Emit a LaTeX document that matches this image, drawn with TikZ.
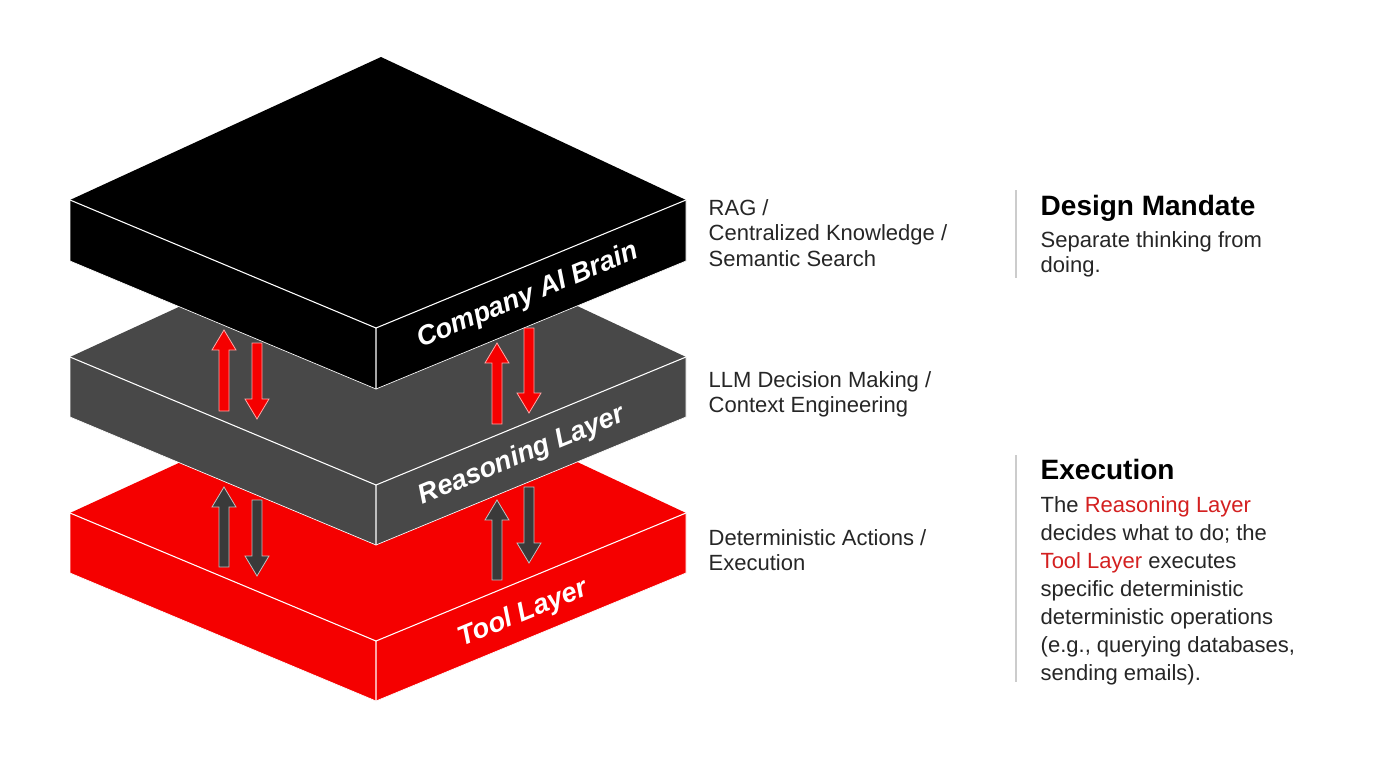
\documentclass[tikz,border=0pt]{standalone}
\usepackage{fontspec}
\setmainfont{Liberation Sans}
\begin{document}
\definecolor{rd}{HTML}{F50000}
\definecolor{rdt}{HTML}{D42020}
\definecolor{gy}{HTML}{484848}
\definecolor{ga}{HTML}{3A3A3A}
\newcommand\myslab[3]{% Y, thickness, color
  \fill[#3] (70,#1)--(381,#1-143)--(686,#1)--(686,#1+#2)--(376,#1+128+#2)--(70,#1+#2)--cycle;
  \draw[white,line width=0.8pt,line join=round] (70,#1)--(376,#1+128)--(686,#1) (376,#1+128)--(376,#1+128+#2);
  \draw[white,line width=0.5pt] (70,#1)--(70,#1+#2)--(376,#1+128+#2)--(686,#1+#2)--(686,#1);
}
\newcommand\uarr[4]{\draw[#4] (#1-5,#2)--(#1-5,#3+20)--(#1-12,#3+20)--(#1,#3)--(#1+12,#3+20)--(#1+5,#3+20)--(#1+5,#2)--cycle;}
\newcommand\darr[4]{\draw[#4] (#1-5,#2)--(#1-5,#3-20)--(#1-12,#3-20)--(#1,#3)--(#1+12,#3-20)--(#1+5,#3-20)--(#1+5,#2)--cycle;}
\begin{tikzpicture}[x=0.75pt,y=-0.75pt,
  lbl/.style={text=white,font=\bfseries\itshape\fontsize{20.5}{24}\selectfont,rotate=22.4,inner sep=0pt},
  side/.style={anchor=north west,align=left,font=\fontsize{16.5}{19}\selectfont,text=black!85},
  head/.style={anchor=north west,font=\bfseries\fontsize{21}{24}\selectfont},
  ra/.style={fill=rd,draw=red!35,line width=0.6pt},
  gra/.style={fill=ga,draw=white!75!black,line width=0.6pt}]
\useasboundingbox (0,0) rectangle (1376,768);
\fill[white] (0,0) rectangle (1376,768);
\myslab{513}{60}{rd}
\myslab{357}{60}{gy}
\myslab{200}{61}{black}
\uarr{224}{411}{330}{ra}
\darr{257}{343}{419}{ra}
\uarr{497}{424}{343}{ra}
\darr{529}{328}{413}{ra}
\uarr{224}{567}{487}{gra}
\darr{257}{500}{576}{gra}
\uarr{497}{580}{500}{gra}
\darr{529}{487}{563}{gra}
\node[lbl] (t1) at (528,296) {Company AI Brain};
\node[lbl] (t2) at (522,456) {Reasoning Layer};
\node[lbl] (t3) at (523,614) {Tool Layer};
\node[side] (s1) at (704,195) {RAG /\\Centralized Knowledge /\\Semantic Search};
\node[side] (s2) at (704,367) {LLM Decision Making /\\Context Engineering};
\node[side] (s3) at (704,525) {Deterministic Actions /\\Execution};
\draw[black!20,line width=1pt] (1016,190)--(1016,278);
\draw[black!20,line width=1pt] (1016,455)--(1016,682);
\node[head] (h1) at (1036,190) {Design Mandate};
\node[side] (d1) at (1036,227) {Separate thinking from\\doing.};
\node[head] (h2) at (1036,454) {Execution};
\node[side,font=\fontsize{16.5}{21}\selectfont] (d2) at (1036,492) {The \textcolor{rdt}{Reasoning Layer}\\decides what to do; the\\\textcolor{rdt}{Tool Layer} executes\\specific deterministic\\deterministic operations\\(e.g., querying databases,\\sending emails).};
\end{tikzpicture}
\end{document}
